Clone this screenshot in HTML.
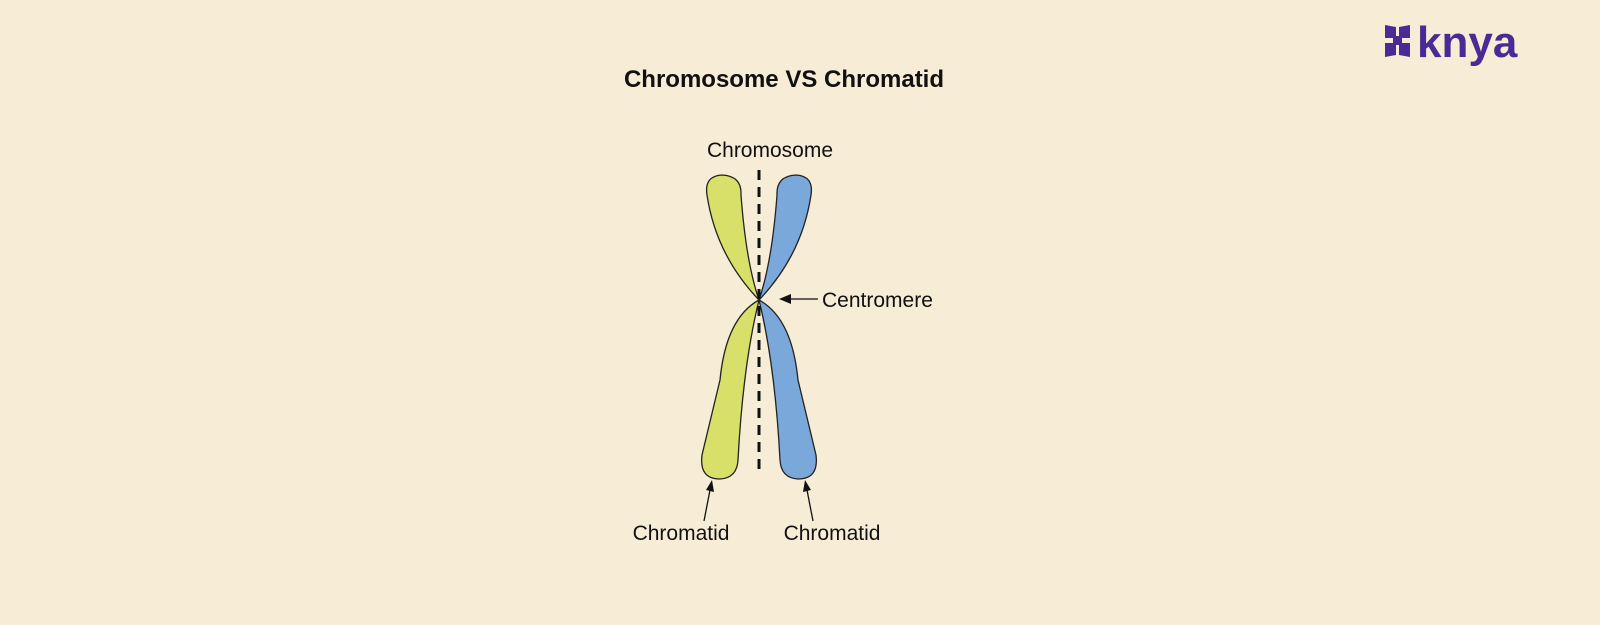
<!DOCTYPE html>
<html><head><style>
html,body{margin:0;padding:0;background:#f7edd7;}
svg{display:block}
</style></head><body>
<svg width="1600" height="625" viewBox="0 0 1600 625" xmlns="http://www.w3.org/2000/svg" font-family="Liberation Sans, sans-serif">
<rect width="1600" height="625" fill="#f7edd7"/>
<text x="784" y="87" text-anchor="middle" font-size="24" font-weight="bold" fill="#111">Chromosome VS Chromatid</text>
<g fill="#4b2a96">
<path d="M1385,25 L1396,27 L1396,38 L1385,38 Z"/>
<path d="M1385,43 L1396,43 L1396,55 L1385,57 Z"/>
<path d="M1399,27 L1410,25 L1410,38 L1399,38 Z"/>
<path d="M1399,43 L1410,43 L1410,57 L1399,55 Z"/>
<rect x="1393" y="36" width="9" height="9"/>
<text x="1417" y="57" font-size="44" font-weight="bold">knya</text>
</g>
<g stroke="#222" stroke-width="1.3">
<path fill="#d9e06a" d="M759,300 Q716,255 707,195 Q704,176 722,175 Q742,176 741,195 Q746,262 759,300 Z"/>
<path fill="#d9e06a" d="M759,300 Q726,318 720,380 L702,455 Q699,479 720,479 Q737,478 738,460 Q743,365 759,300 Z"/>
<path fill="#7aa8da" d="M759,300 Q802,255 811,195 Q814,176 796,175 Q776,176 777,195 Q772,262 759,300 Z"/>
<path fill="#7aa8da" d="M759,300 Q792,318 798,380 L816,455 Q819,479 798,479 Q781,478 780,460 Q775,365 759,300 Z"/>
</g>
<line x1="759" y1="170" x2="759" y2="474" stroke="#111" stroke-width="3" stroke-dasharray="10,7"/>
<text x="770" y="157" text-anchor="middle" font-size="21" fill="#111">Chromosome</text>
<text x="822" y="307" font-size="21" fill="#111">Centromere</text>
<line x1="818" y1="299" x2="790" y2="299" stroke="#111" stroke-width="1.3"/>
<polygon points="779,299 791,294 791,304" fill="#111"/>
<text x="681" y="540" text-anchor="middle" font-size="21" fill="#111">Chromatid</text>
<text x="832" y="540" text-anchor="middle" font-size="21" fill="#111">Chromatid</text>
<line x1="704" y1="521" x2="710" y2="490" stroke="#111" stroke-width="1.3"/>
<polygon points="712,480 714,492 706,490" fill="#111"/>
<line x1="813" y1="521" x2="807" y2="490" stroke="#111" stroke-width="1.3"/>
<polygon points="805,480 811,490 803,492" fill="#111"/>
</svg>
</body></html>
